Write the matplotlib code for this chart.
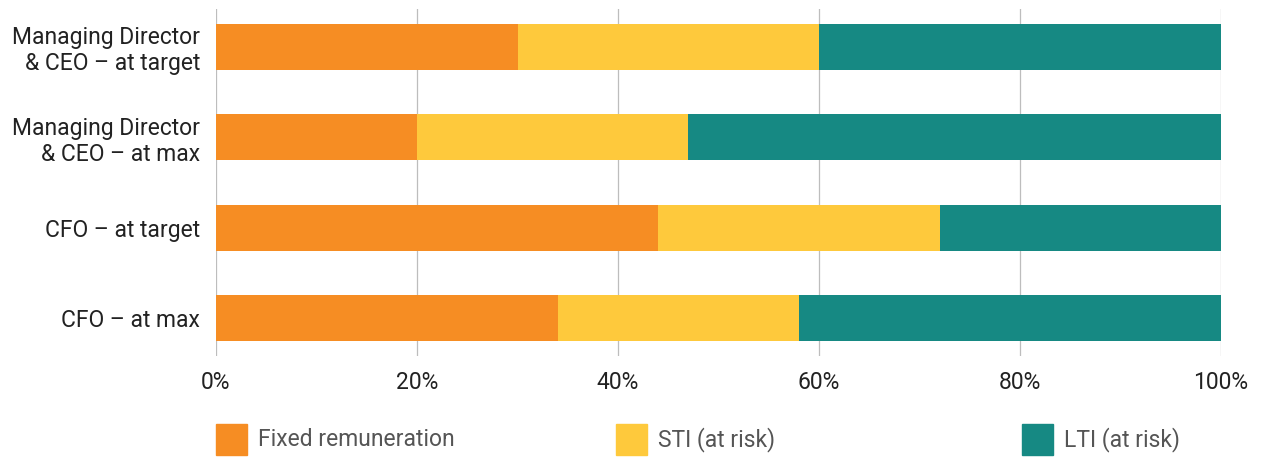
import matplotlib
matplotlib.use("Agg")
import matplotlib.pyplot as plt
from matplotlib.patches import Rectangle
import numpy as np

categories = ["Managing Director\n& CEO – at target", "Managing Director\n& CEO – at max",
              "CFO – at target", "CFO – at max"]
fixed = [30, 20, 44, 34]
sti = [30, 27, 28, 24]
lti = [40, 53, 28, 42]
series_names = ["Fixed remuneration", "STI (at risk)", "LTI (at risk)"]
colors = ["#F68D23", "#FEC93C", "#168983"]
xticks = [0, 20, 40, 60, 80, 100]

plt.rcParams['font.family'] = ['Roboto', 'DejaVu Sans']
W, H = 1263, 458
fig = plt.figure(figsize=(W/100, H/100), dpi=100)
ax = fig.add_axes([216/W, 1-356/H, (1221-216)/W, (356-9)/H])

y = np.arange(len(categories))
left = np.zeros(len(categories))
for vals, c, n in zip([fixed, sti, lti], colors, series_names):
    ax.barh(y, vals, left=left, height=0.51, color=c, label=n, zorder=2)
    left += np.array(vals)

FS = 16.5
ax.set_xlim(0, 100)
ax.set_ylim(3.42, -0.42)
ax.set_xticks(xticks)
ax.set_xticklabels([f"{v}%" for v in xticks])
ax.set_yticks(y)
ax.set_yticklabels(categories, linespacing=1.15)
ax.tick_params(axis='x', length=0, pad=11, labelsize=FS, labelcolor="#222222")
ax.tick_params(axis='y', length=0, pad=11.5, labelsize=FS, labelcolor="#222222")
ax.grid(axis='x', color="#BDBDBD", linewidth=0.9, zorder=0)
for s in ax.spines.values():
    s.set_visible(False)

# legend
sq = 31
for i, (n, c) in enumerate(zip(series_names, colors)):
    xf = [0.0, 0.398, 0.802][i]
    x0 = 216 + xf * (1221 - 216)
    fig.patches.append(Rectangle((x0/W, 1-455/H), sq/W, sq/H, transform=fig.transFigure,
                                 color=c, figure=fig))
    fig.text((x0 + sq + 11)/W, 1-440/H, n, fontsize=FS, color="#555555", va='center', ha='left')

fig.savefig("out.png", dpi=100)
